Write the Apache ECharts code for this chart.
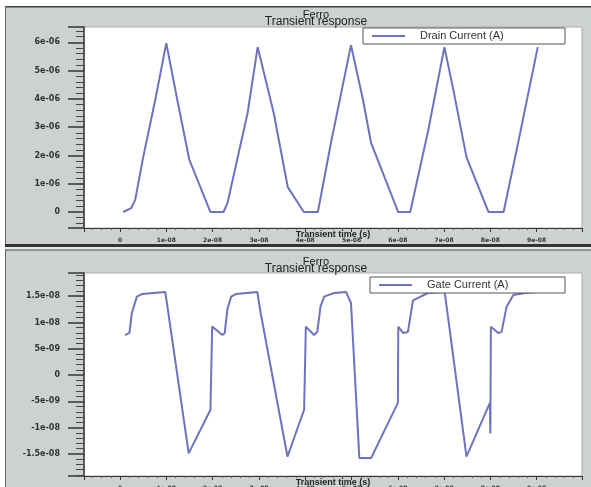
<!DOCTYPE html>
<html><head><meta charset="utf-8">
<script src="https://cdn.jsdelivr.net/npm/echarts@6/dist/echarts.min.js"></script>
<style>html,body{margin:0;padding:0;background:#fff}#c{width:591px;height:487px}</style>
</head><body><div id="c"></div>
<script>
// Drain current: time in ns, current in µA
const drainTimeNs = [0.65,2.39,3.25,4.99,7.59,9.98,12.36,14.97,19.52,22.34,23.21,27.55,29.72,33.19,36.23,39.70,42.73,45.55,49.89,52.49,54.23,60.09,62.69,66.59,70.07,72.02,74.84,79.61,82.86,86.12,90.24];
const drainCurrentUA = [0,0.14,0.42,1.94,3.96,5.97,3.96,1.84,0,0,0.32,3.5,5.83,3.5,0.88,0,0,2.44,5.9,3.96,2.44,0,0,2.9,5.83,4.31,1.94,0,0,2.54,5.83];
// Gate current: time in ns, current in nA
const gateTimeNs = [1.08,2.02,2.54,3.62,4.71,9.76,10.85,14.82,19.52,19.89,21.0,22.1,22.6,23.2,24.0,25.0,29.65,30.37,36.16,39.76,40.13,41.9,42.6,43.3,44.1,46.2,48.81,49.89,51.69,54.23,60.02,60.1,61.11,62.19,63.28,66.53,70.13,74.84,79.89,80.0,80.11,81.71,82.43,83.51,84.97,87.48,90.24];
const gateCurrentNA = [7.6,8.0,11.8,14.9,15.4,15.8,9.2,-14.9,-6.6,9.2,8.4,7.6,8.0,12.6,14.9,15.4,15.8,11.8,-15.5,-6.6,9.2,7.6,8.2,13.0,14.9,15.6,15.8,13.7,-15.8,-15.8,-5.3,9.2,8.0,8.2,14.2,15.6,15.8,-15.5,-5.3,-11.1,9.2,8.0,8.2,13.0,15.2,15.6,15.8];
const seriesNames = ['Drain Current (A)', 'Gate Current (A)'];
const xRange = [-7.8e-9, 9.98e-8];
const drainRange = [-0.565e-6, 6.54e-6];
const gateRange = [-1.92e-8, 1.94e-8];

function sci(v){
  if (Math.abs(v) < 1e-20) return '0';
  const s = Number(v.toPrecision(6)).toExponential();
  return s.replace(/e([+-])(\d+)$/, (m, sg, d) => 'e' + sg + (d.length < 2 ? '0' + d : d));
}
const GRAY = '#cdd1d1';
const LINE = '#6e73bd';
const axisFont = 'DejaVu Sans';

function xAxis(gi){
  return {
    type:'value', gridIndex: gi, min: xRange[0], max: xRange[1], splitNumber: 10,
    axisLine:{show:true, onZero:false, lineStyle:{color:'#333', width:1}},
    axisTick:{show:true, length:4, lineStyle:{color:'#333'}},
    minorTick:{show:true, splitNumber:5, length:2, lineStyle:{color:'#555'}},
    splitLine:{show:false},
    axisLabel:{formatter:sci, showMinLabel:false, showMaxLabel:false, margin:9, fontSize:6, fontWeight:'bold', color:'#333', fontFamily:axisFont},
    name:'Transient time (s)', nameLocation:'middle', nameGap:2, nameMoveOverlap:false,
    nameTextStyle:{fontSize:9, fontWeight:'bold', color:'#222', fontFamily:'Liberation Sans', verticalAlign:'top', backgroundColor:GRAY, padding:[0,2,0,2]}
  };
}
function yAxis(gi, r, split){
  return {
    type:'value', gridIndex: gi, min: r[0], max: r[1], splitNumber: split,
    axisLine:{show:true, onZero:false, lineStyle:{color:'#333', width:1.5}},
    axisTick:{show:true, length:16, lineStyle:{color:'#333', width:1.5}},
    minorTick:{show:true, splitNumber:5, length:8, lineStyle:{color:'#444'}},
    splitLine:{show:false},
    axisLabel:{formatter:sci, showMinLabel:false, showMaxLabel:false, margin:24, fontSize:8, fontWeight:'bold', color:'#333', fontFamily:axisFont}
  };
}
function legend(left, top, name, tw){
  return {
    left:left, top:top, data:[name], orient:'horizontal',
    backgroundColor:'#fff', borderColor:'#555', borderWidth:1, borderRadius:0,
    padding:[2,0,2,9], itemWidth:33, itemHeight:2, icon:'rect',
    textStyle:{fontSize:11, color:'#333', fontFamily:'Liberation Sans', width:tw, padding:[0,0,0,10], lineHeight:12}
  };
}
function txt(t, x, y, size){
  return {type:'text', x:x, y:y, z:10, style:{text:t, x:0, y:0, fill:'#222', font: size + 'px "Liberation Sans"', textAlign:'center', textVerticalAlign:'middle'}};
}

const chart = echarts.init(document.getElementById('c'), null, {renderer:'canvas'});
chart.setOption({
  backgroundColor: GRAY,
  animation:false,
  graphic:[
    {type:'rect', shape:{x:0,y:0,width:591,height:6}, style:{fill:'#fff'}},
    {type:'rect', shape:{x:0,y:0,width:5,height:487}, style:{fill:'#fff'}},
    {type:'rect', shape:{x:5,y:6,width:586,height:1.5}, style:{fill:'#444'}},
    {type:'rect', shape:{x:5,y:6,width:1,height:481}, style:{fill:'#666'}},
    {type:'rect', shape:{x:5,y:244,width:586,height:3}, style:{fill:'#333'}},
    {type:'rect', shape:{x:5,y:247,width:586,height:2.5}, style:{fill:'#e6e8e8'}},
    {type:'rect', shape:{x:5,y:249.5,width:586,height:1}, style:{fill:'#555'}},
    txt('Ferro', 316, 15, 11),
    txt('Transient response', 316, 22, 12),
    txt('Ferro', 316, 262, 11),
    txt('Transient response', 316, 269, 12)
  ],
  grid:[
    {left:84, top:27, width:498, height:201, show:true, backgroundColor:'#fff', borderColor:'#aaa', borderWidth:1, outerBoundsMode:'none', containLabel:false},
    {left:84, top:273, width:498, height:203, show:true, backgroundColor:'#fff', borderColor:'#aaa', borderWidth:1, outerBoundsMode:'none', containLabel:false}
  ],
  xAxis:[xAxis(0), xAxis(1)],
  yAxis:[yAxis(0, drainRange, 7), yAxis(1, gateRange, 8)],
  legend:[legend(363, 28, seriesNames[0], 145), legend(370, 277, seriesNames[1], 138)],
  series:[
    {name:seriesNames[0], type:'line', xAxisIndex:0, yAxisIndex:0, showSymbol:false, symbol:'none',
     color:LINE, lineStyle:{color:LINE, width:2},
     data: drainTimeNs.map((t,i)=>[t*1e-9, drainCurrentUA[i]*1e-6])},
    {name:seriesNames[1], type:'line', xAxisIndex:1, yAxisIndex:1, showSymbol:false, symbol:'none',
     color:LINE, lineStyle:{color:LINE, width:2},
     data: gateTimeNs.map((t,i)=>[t*1e-9, gateCurrentNA[i]*1e-9])}
  ]
});
</script></body></html>
